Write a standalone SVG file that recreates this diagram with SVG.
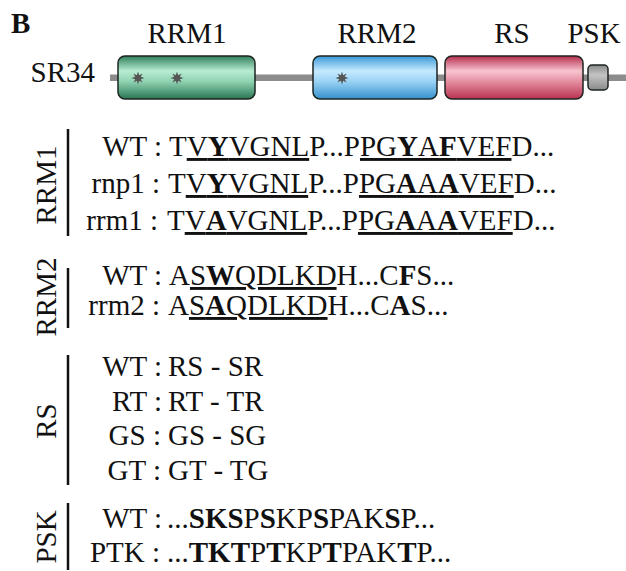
<svg xmlns="http://www.w3.org/2000/svg" xmlns:xlink="http://www.w3.org/1999/xlink" width="626" height="571" viewBox="0 0 626 571" font-family="'Liberation Serif', 'DejaVu Serif', serif">
  <style>
    text { font-family: "Liberation Serif", "DejaVu Serif", serif; font-size: 29px; fill: #111; }
    .b { font-weight: bold; }
    .u { text-decoration: underline; }
    .bar { stroke: #111; stroke-width: 2.5; }
    .dom { stroke: #1c2420; stroke-width: 1.5; }
    .star { fill: #555; }
  </style>
  <defs>
    <linearGradient id="gGreen" x1="0" y1="0" x2="0" y2="1">
      <stop offset="0" stop-color="#2f7f5a"/>
      <stop offset="0.35" stop-color="#b8ecd2"/>
      <stop offset="0.6" stop-color="#8ed2b0"/>
      <stop offset="1" stop-color="#2a7552"/>
    </linearGradient>
    <linearGradient id="gBlue" x1="0" y1="0" x2="0" y2="1">
      <stop offset="0" stop-color="#3a98d6"/>
      <stop offset="0.35" stop-color="#c6eaff"/>
      <stop offset="0.6" stop-color="#98d2f4"/>
      <stop offset="1" stop-color="#3590cc"/>
    </linearGradient>
    <linearGradient id="gRed" x1="0" y1="0" x2="0" y2="1">
      <stop offset="0" stop-color="#b52e4e"/>
      <stop offset="0.35" stop-color="#f8c4d0"/>
      <stop offset="0.6" stop-color="#e48ca0"/>
      <stop offset="1" stop-color="#b83250"/>
    </linearGradient>
    <linearGradient id="gGray" x1="0" y1="0" x2="0" y2="1">
      <stop offset="0" stop-color="#8a8a8a"/>
      <stop offset="0.4" stop-color="#c4c4c4"/>
      <stop offset="1" stop-color="#8a8a8a"/>
    </linearGradient>
    <polygon id="star" class="star" points="6.5,0 2.77,1.15 4.6,4.6 1.15,2.77 0,6.5 -1.15,2.77 -4.6,4.6 -2.77,1.15 -6.5,0 -2.77,-1.15 -4.6,-4.6 -1.15,-2.77 0,-6.5 1.15,-2.77 4.6,-4.6 2.77,-1.15"/>
  </defs>
  <rect width="626" height="571" fill="#fff"/>

  <text id="panel-label" x="11" y="33" class="b">B</text>

  <g id="connectors">
    <rect x="110" y="74.5" width="516" height="6.5" fill="#8c8c8c"/>
  </g>

  <g id="sr34">
    <text x="95" y="82" text-anchor="end">SR34</text>
  </g>

  <g id="rrm1-domain">
    <text x="187" y="43" text-anchor="middle">RRM1</text>
    <rect class="dom" x="118" y="56" width="137" height="43" rx="7" fill="url(#gGreen)"/>
    <use xlink:href="#star" x="138" y="78"/>
    <use xlink:href="#star" x="177" y="78"/>
  </g>

  <g id="rrm2-domain">
    <text x="377" y="43" text-anchor="middle">RRM2</text>
    <rect class="dom" x="313" y="56" width="124" height="43" rx="7" fill="url(#gBlue)"/>
    <use xlink:href="#star" x="342" y="78"/>
  </g>

  <g id="rs-domain">
    <text x="512" y="43" text-anchor="middle">RS</text>
    <rect class="dom" x="445" y="56" width="138" height="43" rx="7" fill="url(#gRed)"/>
  </g>

  <g id="psk-domain">
    <text x="594" y="43" text-anchor="middle">PSK</text>
    <rect class="dom" x="588" y="65" width="20" height="25" rx="4" fill="url(#gGray)"/>
  </g>

  <g id="rrm1-mutants">
    <text transform="translate(56,185) rotate(-90)" text-anchor="middle">RRM1</text>
    <line class="bar" x1="68" y1="129" x2="68" y2="236"/>
    <text x="162" y="156" text-anchor="end">WT :</text>
    <text x="169" y="156">T<tspan class="u">V<tspan class="b">Y</tspan>VGNL</tspan>P...P<tspan class="u">PG<tspan class="b">Y</tspan>A<tspan class="b">F</tspan>VEF</tspan>D...</text>
    <text x="160" y="193" text-anchor="end">rnp1 :</text>
    <text x="168" y="193">T<tspan class="u">V<tspan class="b">Y</tspan>VGNL</tspan>P...P<tspan class="u">PG<tspan class="b">A</tspan>A<tspan class="b">A</tspan>VEF</tspan>D...</text>
    <text x="158" y="230" text-anchor="end">rrm1 :</text>
    <text x="167" y="230">T<tspan class="u">V<tspan class="b">A</tspan>VGNL</tspan>P...P<tspan class="u">PG<tspan class="b">A</tspan>A<tspan class="b">A</tspan>VEF</tspan>D...</text>
  </g>

  <g id="rrm2-mutants">
    <text transform="translate(56,297) rotate(-90)" text-anchor="middle">RRM2</text>
    <line class="bar" x1="68" y1="268" x2="68" y2="328"/>
    <text x="162" y="285" text-anchor="end">WT :</text>
    <text x="169" y="285">A<tspan class="u">S<tspan class="b">W</tspan>QDLKD</tspan>H...C<tspan class="b">F</tspan>S...</text>
    <text x="160" y="315" text-anchor="end">rrm2 :</text>
    <text x="168" y="315">A<tspan class="u">S<tspan class="b">A</tspan>QDLKD</tspan>H...C<tspan class="b">A</tspan>S...</text>
  </g>

  <g id="rs-mutants">
    <text transform="translate(56,421) rotate(-90)" text-anchor="middle">RS</text>
    <line class="bar" x1="68" y1="355" x2="68" y2="485"/>
    <text x="162" y="376" text-anchor="end">WT :</text>
    <text x="168" y="376">RS - SR</text>
    <text x="162" y="411" text-anchor="end">RT :</text>
    <text x="168" y="411">RT - TR</text>
    <text x="161" y="445" text-anchor="end">GS :</text>
    <text x="168" y="445">GS - SG</text>
    <text x="161" y="480" text-anchor="end">GT :</text>
    <text x="168" y="480">GT - TG</text>
  </g>

  <g id="psk-mutants">
    <text transform="translate(56,537) rotate(-90)" text-anchor="middle">PSK</text>
    <line class="bar" x1="68" y1="503" x2="68" y2="570"/>
    <text x="162" y="528" text-anchor="end">WT :</text>
    <text x="167" y="528">...<tspan class="b">SKS</tspan>P<tspan class="b">S</tspan>KP<tspan class="b">S</tspan>PAK<tspan class="b">S</tspan>P...</text>
    <text x="160" y="562" text-anchor="end">PTK :</text>
    <text x="167" y="562">...<tspan class="b">TKT</tspan>P<tspan class="b">T</tspan>KP<tspan class="b">T</tspan>PAK<tspan class="b">T</tspan>P...</text>
  </g>
</svg>
